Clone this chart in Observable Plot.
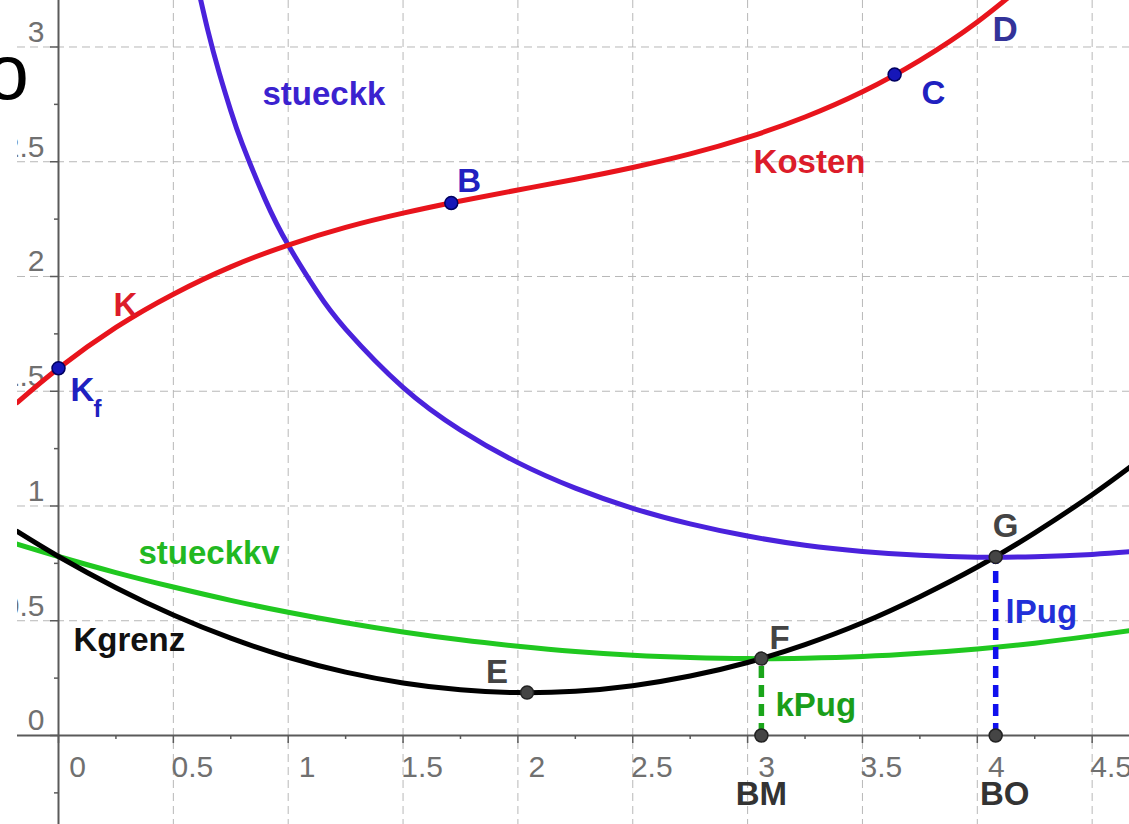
<!DOCTYPE html>
<html><head><meta charset="utf-8">
<script src="https://cdn.jsdelivr.net/npm/d3@7"></script>
<script src="https://cdn.jsdelivr.net/npm/@observablehq/plot@0.6"></script>
<style>
html,body{margin:0;padding:0;background:#fff;overflow:hidden;}
#chart svg{display:block;}
</style></head><body><div id="chart"></div>
<script>
// ---- data ----
const xs       = [-0.18, 0, 0.25, 0.5, 0.75, 1, 1.25, 1.5, 1.75, 2, 2.25, 2.5, 2.75, 3, 3.25, 3.5, 3.75, 4, 4.25, 4.5, 4.67];
const kosten   = [1.450, 1.600, 1.778, 1.923, 2.042, 2.137, 2.214, 2.276, 2.329, 2.377, 2.424, 2.475, 2.534, 2.606, 2.695, 2.805, 2.942, 3.109, 3.311];
const kgrenz   = [0.889, 0.780, 0.644, 0.525, 0.424, 0.341, 0.276, 0.229, 0.199, 0.187, 0.193, 0.217, 0.259, 0.318, 0.396, 0.491, 0.605, 0.734, 0.883, 1.049, 1.173];
const stueckkv = [0.834, 0.780, 0.710, 0.647, 0.589, 0.537, 0.491, 0.451, 0.417, 0.389, 0.366, 0.350, 0.340, 0.335, 0.337, 0.344, 0.358, 0.377, 0.402, 0.434, 0.458];
const stueckkX = [0.6, 0.65, 0.7, 0.75, 0.8, 0.9, 1, 1.125, 1.25, 1.5, 1.75, 2, 2.25, 2.5, 2.75, 3, 3.25, 3.5, 3.75, 4, 4.25, 4.5, 4.67];
const stueckk  = [3.289, 3.073, 2.886, 2.722, 2.578, 2.335, 2.137, 1.935, 1.771, 1.517, 1.331, 1.189, 1.078, 0.990, 0.922, 0.869, 0.829, 0.802, 0.785, 0.777, 0.779, 0.789, 0.801];

const pointNames = ["Kf", "B", "C", "E", "F", "G", "BM", "BO"];
const pointX     = [0, 1.71, 3.64, 2.04, 3.06, 4.08, 3.06, 4.08];
const pointY     = [1.6, 2.32, 2.88, 0.187, 0.335, 0.778, 0, 0];
const pointKind  = ["blue", "blue", "blue", "gray", "gray", "gray", "gray", "gray"];

const xTicks = [0, 0.5, 1, 1.5, 2, 2.5, 3, 3.5, 4, 4.5];
const xTickLabels = ["0", "0.5", "1", "1.5", "2", "2.5", "3", "3.5", "4", "4.5"];
const yTicks = [-0.5, 0, 0.5, 1, 1.5, 2, 2.5, 3];
const yTickLabels = ["-0.5", "0", "0.5", "1", "1.5", "2", "2.5", "3"];
const xMinor = [0.25, 0.75, 1.25, 1.75, 2.25, 2.75, 3.25, 3.75, 4.25];
const yMinor = [-0.25, 0.25, 0.75, 1.25, 1.75, 2.25, 2.75];

// free labels (anchor = start of text, baseline)
const curveLabels = [
  {text: "stueckk",  x: 0.888, y: 2.749, color: "#3b22cf"},
  {text: "Kosten",   x: 3.026, y: 2.449, color: "#dc1c2a"},
  {text: "K",        x: 0.239, y: 1.826, color: "#dc1c2a"},
  {text: "stueckkv", x: 0.348, y: 0.749, color: "#22b822"},
  {text: "Kgrenz",   x: 0.065, y: 0.370, color: "#111111"},
  {text: "kPug",     x: 3.121, y: 0.087, color: "#1a9e1a"},
  {text: "lPug",     x: 4.123, y: 0.492, color: "#2230d8"}
];

// ---- build tables ----
const kData  = kosten.map((y, i) => ({x: xs[i], y}));
const gData  = kgrenz.map((y, i) => ({x: xs[i], y}));
const vData  = stueckkv.map((y, i) => ({x: xs[i], y}));
const sData  = stueckk.map((y, i) => ({x: stueckkX[i], y}));
const pts    = pointNames.map((n, i) => ({name: n, x: pointX[i], y: pointY[i], kind: pointKind[i]}));
const P = Object.fromEntries(pts.map(p => [p.name, p]));

const FONT = "'Liberation Sans', Arial, Helvetica, sans-serif";
const W = 1129, H = 824, ML = 17;
const X0 = -0.1785, X1 = 4.6626, Y0 = -0.3878, Y1 = 3.2026;
const pxX = (W - ML) / (X1 - X0), pxY = H / (Y1 - Y0);
const tY = 8 / pxY, tYm = 4 / pxY, tX = 8 / pxX, tXm = 4 / pxX;

const grid = {stroke: "#b8b8b8", strokeWidth: 1, strokeDasharray: "8,5"};
const axisC = "#5a5a5a";
const LBL = {fontFamily: FONT, fontSize: 33, fontWeight: "bold", lineAnchor: "bottom"};

const plot = Plot.plot({
  width: W, height: H,
  marginLeft: ML, marginRight: 0, marginTop: 0, marginBottom: 0,
  x: {domain: [X0, X1], axis: null},
  y: {domain: [Y0, Y1], axis: null},
  color: {type: "identity"},
  style: {background: "#fff", fontFamily: FONT},
  marks: [
    Plot.ruleX(xTicks.filter(d => d !== 0), grid),
    Plot.ruleY(yTicks.filter(d => d !== 0), grid),
    Plot.ruleX([0], {stroke: axisC, strokeWidth: 2}),
    Plot.ruleY([0], {stroke: axisC, strokeWidth: 2}),
    Plot.ruleX(xTicks, {x: d => d, y1: 0, y2: -tY, stroke: axisC, strokeWidth: 1.5}),
    Plot.ruleX(xMinor, {x: d => d, y1: 0, y2: -tYm, stroke: axisC, strokeWidth: 1.5}),
    Plot.ruleY(yTicks, {y: d => d, x1: -tX, x2: 0, stroke: axisC, strokeWidth: 1.5, clip: true}),
    Plot.ruleY(yMinor, {y: d => d, x1: -tXm, x2: 0, stroke: axisC, strokeWidth: 1.5}),
    Plot.text(xTicks, {x: d => d, y: 0, text: (d, i) => xTickLabels[i], textAnchor: "middle", lineAnchor: "bottom",
      dx: 19, dy: 42, fontSize: 30, fill: "#707070", fontFamily: FONT}),
    Plot.text(yTicks, {x: 0, y: d => d, text: (d, i) => yTickLabels[i], textAnchor: "end", lineAnchor: "bottom",
      dx: -14, dy: -5, fontSize: 30, fill: "#707070", fontFamily: FONT, clip: true}),
    // curves
    Plot.line(vData, {x: "x", y: "y", stroke: "#20c820", strokeWidth: 5, curve: "natural", clip: true}),
    Plot.line(gData, {x: "x", y: "y", stroke: "#000000", strokeWidth: 5, curve: "natural", clip: true}),
    Plot.line(sData, {x: "x", y: "y", stroke: "#4a22dc", strokeWidth: 5, curve: "natural", clip: true}),
    Plot.line(kData, {x: "x", y: "y", stroke: "#e8141c", strokeWidth: 5, curve: "natural", clip: true}),
    // dashed segments
    Plot.ruleX([P.F], {x: "x", y1: 0, y2: "y", stroke: "#1aa51a", strokeWidth: 5.5, strokeDasharray: "12,7"}),
    Plot.ruleX([P.G], {x: "x", y1: 0, y2: "y", stroke: "#1010ee", strokeWidth: 5.5, strokeDasharray: "12,7"}),
    // points
    Plot.dot(pts, {x: "x", y: "y", r: 6.5, fill: d => d.kind === "blue" ? "#1616b8" : "#454545",
      stroke: d => d.kind === "blue" ? "#000060" : "#222222", strokeWidth: 1.5}),
    // point labels
    Plot.text([P.B], {x: "x", y: "y", text: d => "B", ...LBL, textAnchor: "start", dx: 6, dy: -11, fill: "#2020c0"}),
    Plot.text([P.C], {x: "x", y: "y", text: d => "C", ...LBL, textAnchor: "start", dx: 27, dy: 29, fill: "#2020c0"}),
    Plot.text([P.E], {x: "x", y: "y", text: d => "E", ...LBL, textAnchor: "start", dx: -41, dy: -10, fill: "#444444"}),
    Plot.text([P.F], {x: "x", y: "y", text: d => "F", ...LBL, textAnchor: "start", dx: 8, dy: -10, fill: "#444444"}),
    Plot.text([P.G], {x: "x", y: "y", text: d => "G", ...LBL, textAnchor: "start", dx: -3, dy: -20, fill: "#444444"}),
    Plot.text([P.BM], {x: "x", y: "y", text: d => "BM", ...LBL, textAnchor: "middle", dx: 0, dy: 70, fill: "#333333"}),
    Plot.text([P.BO], {x: "x", y: "y", text: d => "BO", ...LBL, textAnchor: "middle", dx: 9, dy: 70, fill: "#333333"}),
    Plot.text([P.Kf], {x: "x", y: "y", text: d => "K", ...LBL, textAnchor: "start", dx: 12, dy: 33, fill: "#2020c0"}),
    Plot.text([P.Kf], {x: "x", y: "y", text: d => "f", ...LBL, fontSize: 24, textAnchor: "start", dx: 35, dy: 49, fill: "#2020c0"}),
    Plot.text([{x: 4.066, y: 3.024}], {x: "x", y: "y", text: d => "D", ...LBL, fontSize: 35, textAnchor: "start", fill: "#333399"}),
    // curve labels
    Plot.text(curveLabels, {x: "x", y: "y", text: "text", fill: "color", ...LBL, textAnchor: "start"}),
    // fragment of a neighbouring text at the left edge
    Plot.text(["o"], {frameAnchor: "top-left", text: d => d, textAnchor: "middle", lineAnchor: "bottom",
      dx: -10, dy: 98, fontSize: 77, fill: "#000", fontFamily: FONT})
  ]
});
document.getElementById("chart").appendChild(plot);
</script></body></html>
